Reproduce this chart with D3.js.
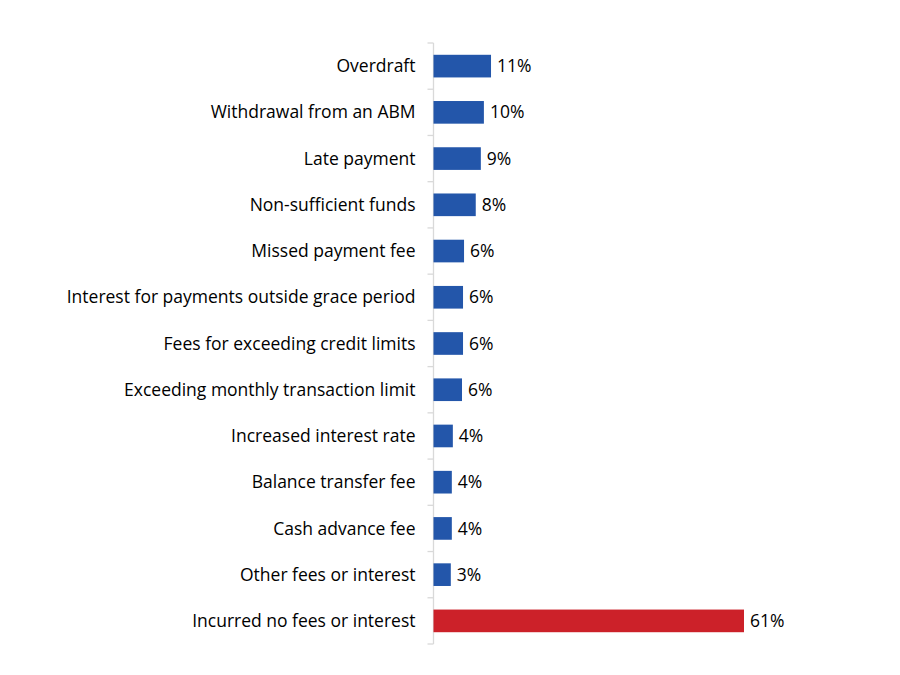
<!DOCTYPE html>
<html lang="en">
<head>
    <meta charset="UTF-8">
    <title>Fees and interest incurred</title>
    <script src="https://d3js.org/d3.v7.min.js"></script>
    <style>
        body { margin: 0; background: #fff; }
        .cat-label { font-family: "Open Sans", "Liberation Sans", sans-serif; font-size: 17.5px; fill: #000; }
        .val-label { font-family: "Open Sans", "Liberation Sans", sans-serif; font-size: 17.5px; fill: #000; }
    </style>
</head>
<body>
    <div id="chart"></div>
    <script>
        // categories, top to bottom
        const categories = [
            "Overdraft",
            "Withdrawal from an ABM",
            "Late payment",
            "Non-sufficient funds",
            "Missed payment fee",
            "Interest for payments outside grace period",
            "Fees for exceeding credit limits",
            "Exceeding monthly transaction limit",
            "Increased interest rate",
            "Balance transfer fee",
            "Cash advance fee",
            "Other fees or interest",
            "Incurred no fees or interest"
        ];
        // bar lengths and the printed labels
        const values = [11.3, 9.9, 9.3, 8.3, 6.0, 5.8, 5.8, 5.6, 3.8, 3.6, 3.6, 3.4, 61];
        const valueLabels = ["11%", "10%", "9%", "8%", "6%", "6%", "6%", "6%", "4%", "4%", "4%", "3%", "61%"];

        const width = 900;
        const height = 675;
        const margin = {top: 43, right: 156, bottom: 31, left: 433.5};

        const data = categories.map((c, i) => ({cat: c, value: values[i], label: valueLabels[i]}));

        const svg = d3.select("#chart")
            .append("svg")
            .attr("width", width)
            .attr("height", height);

        const x = d3.scaleLinear()
            .domain([0, 61])
            .range([margin.left, width - margin.right]);

        const y = d3.scaleBand()
            .domain(categories)
            .range([margin.top, height - margin.bottom])
            .paddingInner(0.51)
            .paddingOuter(0.255);

        const step = y.step();

        // axis line with small ticks between categories
        const axis = svg.append("g").attr("stroke", "#d9d9d9").attr("stroke-width", 1.3);
        axis.append("line")
            .attr("x1", margin.left).attr("x2", margin.left)
            .attr("y1", margin.top).attr("y2", height - margin.bottom);
        const tickYs = d3.range(categories.length + 1).map(i => margin.top + i * step);
        axis.selectAll(".tick")
            .data(tickYs)
            .enter()
            .append("line")
            .attr("x1", margin.left - 6).attr("x2", margin.left)
            .attr("y1", d => d).attr("y2", d => d);

        // bars
        svg.selectAll(".bar")
            .data(data)
            .enter()
            .append("rect")
            .attr("class", "bar")
            .attr("x", x(0))
            .attr("y", d => y(d.cat))
            .attr("width", d => x(d.value) - x(0))
            .attr("height", y.bandwidth())
            .attr("fill", (d, i) => i === data.length - 1 ? "#cc2129" : "#2356aa");

        // value labels
        svg.selectAll(".val-label")
            .data(data)
            .enter()
            .append("text")
            .attr("class", "val-label")
            .attr("x", d => x(d.value) + 6)
            .attr("y", d => y(d.cat) + y.bandwidth() / 2)
            .attr("dy", "0.35em")
            .text(d => d.label);

        // category labels
        svg.selectAll(".cat-label")
            .data(data)
            .enter()
            .append("text")
            .attr("class", "cat-label")
            .attr("x", margin.left - 18)
            .attr("y", d => y(d.cat) + y.bandwidth() / 2)
            .attr("dy", "0.35em")
            .attr("text-anchor", "end")
            .text(d => d.cat);
    </script>
</body>
</html>
